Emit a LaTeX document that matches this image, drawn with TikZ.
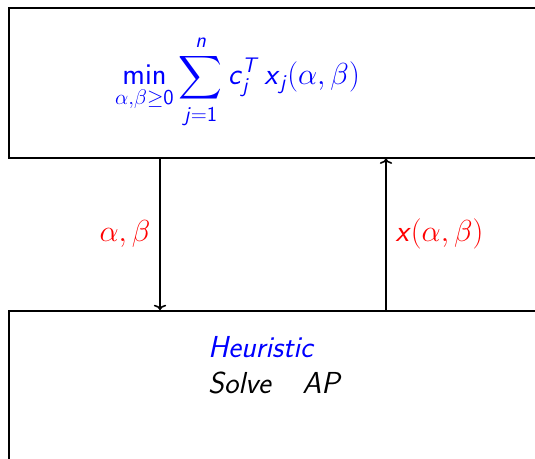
\RequirePackage{fix-cm}
\documentclass[tikz,border=0pt]{standalone}
\usepackage{amsmath}
\usepackage{fontspec}
\setsansfont{Latin Modern Sans}
\usepackage{xcolor}
\usepackage{tikz}
\usetikzlibrary{arrows.meta,positioning}
\renewcommand{\familydefault}{\sfdefault}
% sans italic letters inside math
\newcommand{\sv}[1]{\textsf{\textit{#1}}}
\newcommand{\sn}[1]{\textsf{#1}}
\tikzset{
  panel/.style={
    draw=black,
    line width=0.9pt,
    fill=white,
    anchor=north west,
    minimum width=11cm,
    inner sep=0pt
  },
  flow/.style={line width=0.9pt, draw=black, -{To[length=3pt,width=7pt]}},
  flowlabel/.style={font=\fontsize{17.28pt}{21pt}\selectfont, text=red, inner sep=5pt},
  formula/.style={font=\fontsize{17.28pt}{21pt}\selectfont, text=blue, anchor=base},
  steptext/.style={font=\fontsize{17.28pt}{21pt}\selectfont, align=left, anchor=base west}
}

\begin{document}
\begin{tikzpicture}[x=1cm,y=1cm]
\path[use as bounding box] (0,0) rectangle (10.7,9.18);
\clip (0,0) rectangle (10.7,9.18);

\node[panel, minimum height=3cm] (master) at (0.16,9.04) {};
\node[panel, minimum height=3.5cm] (sub) at (0.16,2.98) {};

\node[formula] (obj) at (4.75,7.48)
  {$\displaystyle\mathop{\sn{min}}\limits_{\alpha,\beta\geq\sn{0}}
   \sum_{\sv{j}=\sn{1}}^{\sv{n}}\sv{c}_{\sv{j}}^{\sv{T}}\,\sv{x}_{\sv{j}}(\alpha,\beta)$};
\node[steptext] (heur) at (4.04,1.30)
  {\textcolor{blue}{\textit{Heuristic}}\\\textit{Solve}\quad\textit{AP}};

\coordinate (down) at (3.2,4.5);
\coordinate (up) at (7.72,4.5);

\draw[flow] (down |- master.south) -- node[flowlabel, left] {$\alpha,\beta$} (down |- sub.north);
\draw[flow] (up |- sub.north) -- node[flowlabel, right] {$\sv{x}(\alpha,\beta)$} (up |- master.south);

\end{tikzpicture}
\end{document}
